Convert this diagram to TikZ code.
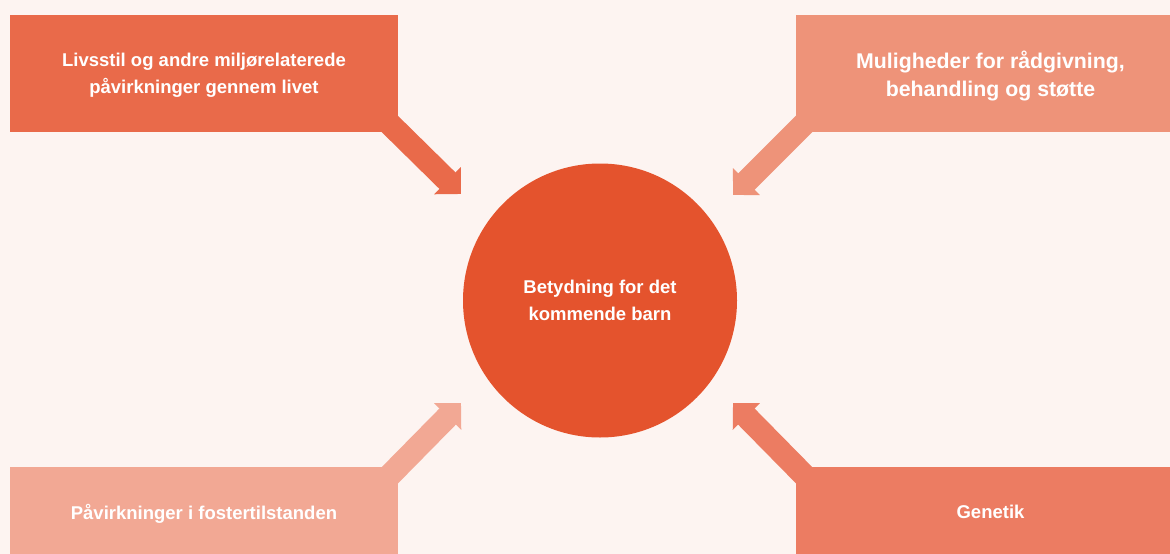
\documentclass[tikz,border=0pt]{standalone}
\usepackage{fontspec}
\setmainfont{Liberation Sans}
\usetikzlibrary{arrows.meta}
\definecolor{bgcol}{HTML}{FDF4F1}
\definecolor{lifecol}{HTML}{E96A4A}
\definecolor{helpcol}{HTML}{EE9379}
\definecolor{fetalcol}{HTML}{F2A894}
\definecolor{genecol}{HTML}{EC7C62}
\definecolor{childcol}{HTML}{E4532D}
\begin{document}
\begin{tikzpicture}[
            x=1pt, y=-1pt,
            box/.style={rectangle, inner sep=0pt, outer sep=0pt, text=white, align=center,
                text depth=0pt, font=\fontsize{18.5}{27}\selectfont\bfseries},
            pointer/.style={line width=23pt, shorten <=-30pt, -{Triangle[width=37pt,length=19pt]}}
        ]
        \useasboundingbox (0,0) rectangle (1170,554);
        \fill[bgcol] (0,0) rectangle (1170,554);
        \clip (0,0) rectangle (1170,554);
        % arrow tips
        \coordinate (tiptl) at (461,194);
        \coordinate (tiptr) at (733,195);
        \coordinate (tipbl) at (461,403);
        \coordinate (tipbr) at (733,403);
        \node[box, circle, fill=childcol, minimum size=274pt] (child) at (600,300.5)
            {Betydning for det\\kommende barn};
        \node[box, fill=lifecol, minimum width=388pt, minimum height=117pt] (life) at (204,73.5) {};
        \node[box, fill=helpcol, minimum width=389pt, minimum height=117pt] (help) at (990.5,73.5) {};
        \node[box, fill=fetalcol, minimum width=388pt, minimum height=90pt] (fetal) at (204,512) {};
        \node[box, fill=genecol, minimum width=389pt, minimum height=90pt] (gene) at (990.5,512) {};
        \draw[pointer, lifecol] (life.south east) -- (tiptl);
        \draw[pointer, helpcol] (help.south west) -- (tiptr);
        \draw[pointer, fetalcol] (fetal.north east) -- (tipbl);
        \draw[pointer, genecol] (gene.north west) -- (tipbr);
        % boxes again on top of the shafts, with text
        \node[box, fill=lifecol, minimum width=388pt, minimum height=117pt] at (life)
            {Livsstil og andre miljørelaterede\\påvirkninger gennem livet};
        \node[box, fill=helpcol, minimum width=389pt, minimum height=117pt,
            font=\fontsize{21.3}{28}\selectfont\bfseries] at (help)
            {Muligheder for rådgivning,\\behandling og støtte};
        \node[box, fill=fetalcol, minimum width=388pt, minimum height=90pt] at (fetal)
            {Påvirkninger i fostertilstanden};
        \node[box, fill=genecol, minimum width=389pt, minimum height=90pt] at (gene) {Genetik};
    \end{tikzpicture}
\end{document}
